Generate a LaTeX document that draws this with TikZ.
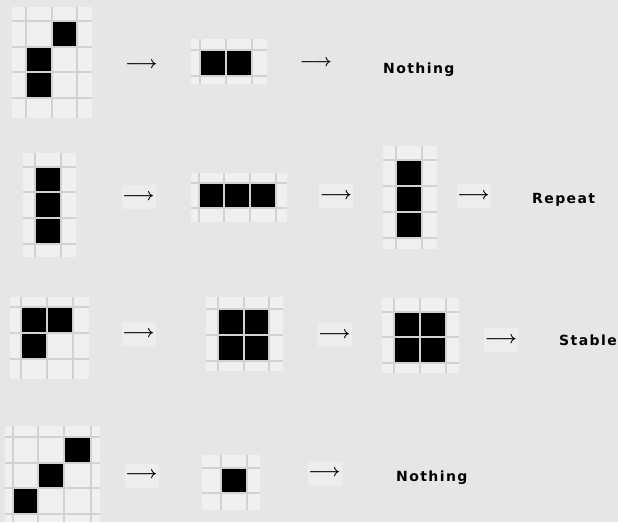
\documentclass[tikz,border=0pt]{standalone}
\usepackage{fontspec}
\newfontfamily\labelfont[LetterSpace=10]{DejaVu Sans}
\definecolor{bgcol}{HTML}{E6E6E6}
\definecolor{cellcol}{HTML}{F0F0F0}
\definecolor{linecol}{HTML}{D2D2D2}
\definecolor{boxcol}{HTML}{EDEDED}
\tikzset{
  gridline/.style={draw=linecol, line width=1.6pt},
  livecell/.style={fill=black},
  arrowbox/.style={fill=boxcol, minimum width=34pt, minimum height=24pt,
    inner sep=0pt, font=\fontsize{16}{16}\selectfont\boldmath},
  plainarrow/.style={arrowbox, fill=none},
  result/.style={anchor=base west, inner sep=0pt,
    font=\labelfont\bfseries\fontsize{14}{14}\selectfont},
}
% x0 y0 x1 y1 {x lines} {y lines} {live cells}
\newcommand{\lifegrid}[7]{
  \fill[cellcol] (#1,#2) rectangle (#3,#4);
  \foreach \cx/\cy in {#7}
    \fill[livecell] (\cx,\cy) rectangle ++(25.7,25.7);
  \foreach \lx in {#5}
    \draw[gridline] (\lx,#2) -- (\lx,#4);
  \foreach \ly in {#6}
    \draw[gridline] (#1,\ly) -- (#3,\ly);
}
\begin{document}
\begin{tikzpicture}[x=1pt, y=-1pt]
  \fill[bgcol] (0,0) rectangle (618,522);
  \useasboundingbox (0,0) rectangle (618,522);
  % dies out
  \lifegrid{12}{7}{92}{118}{26,52,77}{21,47,72,98}{52/21,26/47,26/72}
  \lifegrid{191}{39}{267}{84}{200,226,252}{50,76}{200/50,226/50}
  \node[plainarrow] (a1a) at (141.5,65) {$\longrightarrow$};
  \node[plainarrow] (a1b) at (316,63) {$\longrightarrow$};
  \node[result] (t1) at (383,73) {Nothing};
  % blinker
  \lifegrid{23}{153}{76}{257}{35,61}{167,192,218,244}{35/167,35/192,35/218}
  \lifegrid{191}{173}{287}{222}{199,224,250,276}{183,208}{199/183,224/183,250/183}
  \lifegrid{383}{146}{437}{249}{396,422}{160,186,212,238}{396/160,396/186,396/212}
  \node[arrowbox] (a2a) at (138.5,197) {$\longrightarrow$};
  \node[arrowbox] (a2b) at (336,196) {$\longrightarrow$};
  \node[arrowbox] (a2c) at (473.5,196) {$\longrightarrow$};
  \node[result] (t2) at (532,203) {Repeat};
  % block
  \lifegrid{10}{297}{89}{379}{21,47,73}{307,333,359}{21/307,47/307,21/333}
  \lifegrid{206}{297}{283}{371}{218,244,269}{309,335,361}{218/309,244/309,218/335,244/335}
  \lifegrid{382}{298}{459}{373}{394,420,446}{312,337,363}{394/312,420/312,394/337,420/337}
  \node[arrowbox] (a3a) at (138.5,334) {$\longrightarrow$};
  \node[arrowbox] (a3b) at (334.5,335) {$\longrightarrow$};
  \node[arrowbox] (a3c) at (501,340) {$\longrightarrow$};
  \node[result] (t3) at (559,345) {Stable};
  % diagonal
  \lifegrid{5}{426}{100}{522}{13,38,64,91}{437,463,488,514}{64/437,38/463,13/488}
  \lifegrid{202}{455}{260}{510}{221,247}{468,493}{221/468}
  \node[arrowbox] (a4a) at (141.5,475.5) {$\longrightarrow$};
  \node[arrowbox] (a4b) at (324.5,473.5) {$\longrightarrow$};
  \node[result] (t4) at (396,481) {Nothing};
\end{tikzpicture}
\end{document}
